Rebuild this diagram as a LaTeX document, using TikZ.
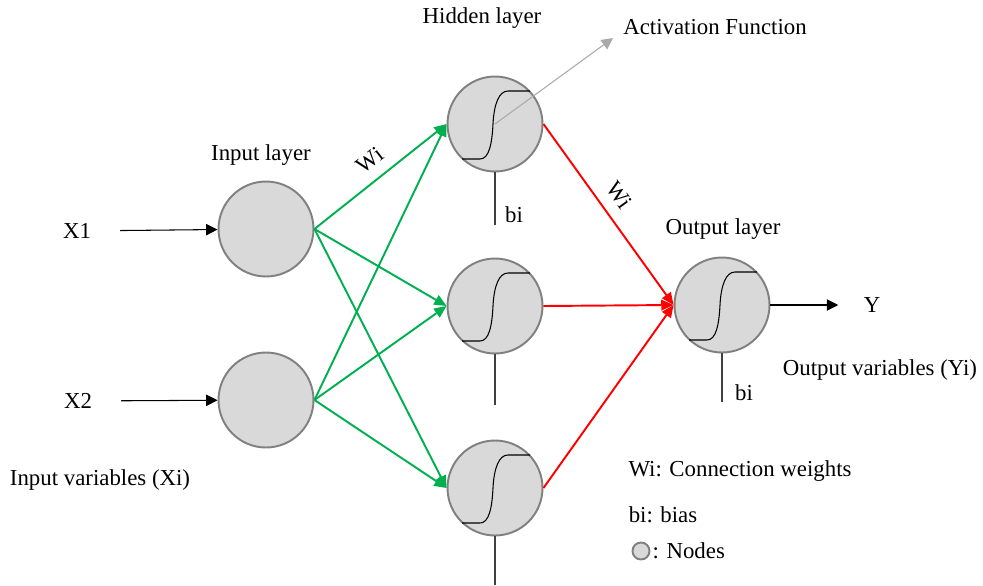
\documentclass[tikz,border=0pt]{standalone}
\usepackage{fontspec}
\setmainfont{Liberation Serif}
\usetikzlibrary{calc,arrows.meta}
\definecolor{nodegray}{RGB}{217,217,217}
\definecolor{rimgray}{RGB}{128,128,128}
\definecolor{wgreen}{RGB}{0,176,80}
\definecolor{wred}{RGB}{255,0,0}
\definecolor{actgray}{RGB}{170,170,170}
\def\sigcurve(#1){\draw[line width=0.6pt] ($(#1)+(-33,35)$) -- ($(#1)+(-15,35)$) .. controls ($(#1)+(-6,35)$) and ($(#1)+(-3,20)$) .. ($(#1)+(-2,0)$) .. controls ($(#1)+(-1,-20)$) and ($(#1)+(4,-33)$) .. ($(#1)+(13,-33)$) -- ($(#1)+(35,-33)$);}

\begin{document}
\begin{tikzpicture}[x=0.02cm, y=-0.02cm, font=\rmfamily\fontsize{13}{15}\selectfont]
			%%%%% START %%%%%
			\tikzset{neuron/.style={circle, draw=rimgray, fill=nodegray, line width=1.1pt, minimum size=1.9cm, inner sep=0pt},
				weight/.style={line width=1.1pt, -{Triangle[length=7pt, width=6pt]}},
				plain/.style={line width=0.6pt, -{Triangle[length=6.5pt, width=6.5pt]}}}
			\useasboundingbox (0, 0) rectangle (983, 585);
			
			\node[neuron] (in1) at (266, 229) {};
			\node[neuron] (in2) at (266, 400) {};
			\node[neuron] (hid1) at (495, 124) {};
			\node[neuron] (hid2) at (495, 306) {};
			\node[neuron] (hid3) at (495, 488) {};
			\node[neuron] (out) at (722, 305) {};
			
			\sigcurve(hid1)
			\sigcurve(hid2)
			\sigcurve(hid3)
			\sigcurve(out)
			
			\node (x1) at (77, 231) {X1};
			\node (x2) at (78, 401) {X2};
			\node (y) at (872, 305) {Y};
			\draw[plain, shorten <=13pt] (x1) -- (in1);
			\draw[plain, shorten <=13pt] (x2) -- (in2);
			\draw[plain, shorten >=11pt] (out.east) -- (y);
			
			\foreach \i in {in1, in2}
				\foreach \h in {hid1, hid2, hid3}
					\draw[weight, wgreen] (\i.east) -- (\h.west);
			\foreach \h in {hid1, hid2, hid3}
				\draw[weight, wred] (\h.east) -- (out.west);
			
			\coordinate (b1) at (495, 225);
			\coordinate (b2) at (495, 405);
			\coordinate (b3) at (495, 585);
			\coordinate (b4) at (722, 402);
			\foreach \h/\b in {hid1/b1, hid2/b2, hid3/b3, out/b4}
				\draw[line width=0.6pt, black!75] (\h.south) -- (\b);
			\node (bi1) at (514, 215) {bi};
			\node (bi2) at (744, 393) {bi};
			
			\coordinate (act) at (613, 38);
			\draw[line width=0.6pt, actgray, -{Triangle[length=6.5pt, width=6.5pt]}] (hid1.center) -- (act);
			\node (actlabel) at (715, 27) {Activation Function};
			
			\node[rotate=38] (w1) at (370, 160) {Wi};
			\node[rotate=-54, inner sep=1pt] (w2) at (619, 195) {Wi};
			
			\node (inlayer) at (261, 155) {Input layer};
			\node (hidlayer) at (482, 18) {Hidden layer};
			\node (outlayer) at (723, 229) {Output layer};
			\node (invars) at (100, 480) {Input variables (Xi)};
			\node (outvars) at (880, 370) {Output variables (Yi)};
			
			\node (leg1) at (740, 471) {Wi: Connection weights};
			\node (leg2) at (663, 515) {bi: bias};
			\node[circle, draw=rimgray, fill=nodegray, line width=1.1pt, minimum size=0.34cm, inner sep=0pt] (legnode) at (641, 551) {};
			\node[anchor=west, inner sep=1pt] (leg3) at (legnode.east) {: Nodes};
			%%%%% END %%%%%
\end{tikzpicture}
\end{document}
